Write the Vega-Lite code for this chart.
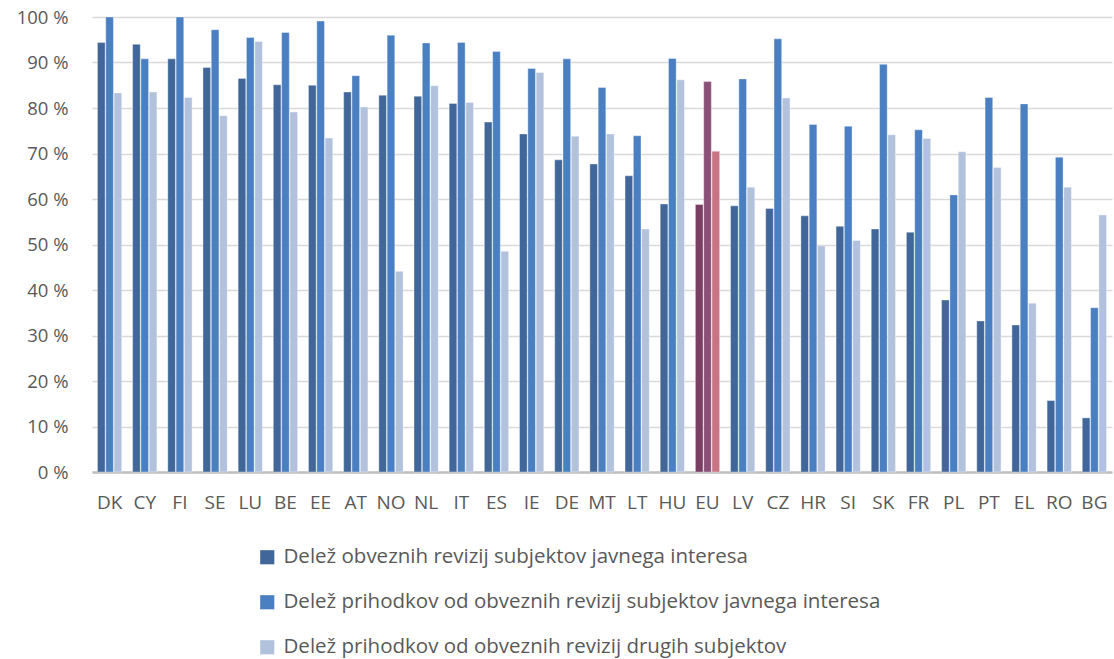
{
  "$schema": "https://vega.github.io/schema/vega-lite/v6.json",
  "width": 1020,
  "height": 455,
  "autosize": {"type": "none"},
  "padding": {"left": 92, "top": 17, "right": 2, "bottom": 187},
  "background": "white",
  "config": {
    "view": {"stroke": null},
    "font": "Open Sans",
    "axis": {"labelFont": "Open Sans", "labelColor": "#595959"},
    "legend": {"labelFont": "Open Sans", "labelColor": "#595959"}
  },
  "data": {
    "values": [
      {"country": "DK", "A": 94.4, "B": 100, "C": 83.3},
      {"country": "CY", "A": 94.0, "B": 90.8, "C": 83.5},
      {"country": "FI", "A": 90.8, "B": 100, "C": 82.3},
      {"country": "SE", "A": 88.9, "B": 97.2, "C": 78.3},
      {"country": "LU", "A": 86.5, "B": 95.5, "C": 94.6},
      {"country": "BE", "A": 85.1, "B": 96.6, "C": 79.1},
      {"country": "EE", "A": 85.0, "B": 99.1, "C": 73.4},
      {"country": "AT", "A": 83.5, "B": 87.1, "C": 80.2},
      {"country": "NO", "A": 82.8, "B": 96.0, "C": 44.1},
      {"country": "NL", "A": 82.6, "B": 94.3, "C": 84.9},
      {"country": "IT", "A": 81.0, "B": 94.4, "C": 81.2},
      {"country": "ES", "A": 76.9, "B": 92.4, "C": 48.5},
      {"country": "IE", "A": 74.3, "B": 88.7, "C": 87.8},
      {"country": "DE", "A": 68.6, "B": 90.8, "C": 73.8},
      {"country": "MT", "A": 67.7, "B": 84.5, "C": 74.3},
      {"country": "LT", "A": 65.1, "B": 73.9, "C": 53.4},
      {"country": "HU", "A": 58.9, "B": 90.9, "C": 86.2},
      {"country": "EU", "A": 58.8, "B": 85.8, "C": 70.5},
      {"country": "LV", "A": 58.5, "B": 86.4, "C": 62.6},
      {"country": "CZ", "A": 57.9, "B": 95.2, "C": 82.2},
      {"country": "HR", "A": 56.3, "B": 76.4, "C": 49.7},
      {"country": "SI", "A": 54.0, "B": 76.0, "C": 50.9},
      {"country": "SK", "A": 53.4, "B": 89.6, "C": 74.1},
      {"country": "FR", "A": 52.7, "B": 75.2, "C": 73.3},
      {"country": "PL", "A": 37.8, "B": 60.9, "C": 70.4},
      {"country": "PT", "A": 33.2, "B": 82.3, "C": 66.9},
      {"country": "EL", "A": 32.3, "B": 80.9, "C": 37.1},
      {"country": "RO", "A": 15.7, "B": 69.2, "C": 62.6},
      {"country": "BG", "A": 11.9, "B": 36.1, "C": 56.5}
    ]
  },
  "transform": [
    {"fold": ["A", "B", "C"], "as": ["series", "value"]},
    {"calculate": "datum.country === 'EU' ? 'EU' + datum.series : datum.series", "as": "grp"}
  ],
  "mark": {"type": "bar", "stroke": "white", "strokeWidth": 0.6, "strokeOpacity": 0.6},
  "encoding": {
    "x": {
      "field": "country",
      "type": "nominal",
      "sort": null,
      "scale": {"paddingInner": 0.31, "paddingOuter": 0.155},
      "axis": {
        "title": null,
        "labelAngle": 0,
        "labelFontSize": 19,
        "labelPadding": 21,
        "ticks": false,
        "domainColor": "#bfbfbf",
        "domainWidth": 2.5,
        "grid": false
      }
    },
    "xOffset": {
      "field": "series",
      "type": "nominal",
      "sort": ["A", "B", "C"],
      "scale": {"paddingInner": 0.08}
    },
    "y": {
      "field": "value",
      "type": "quantitative",
      "scale": {"domain": [0, 100], "nice": false},
      "axis": {
        "title": null,
        "values": [0, 10, 20, 30, 40, 50, 60, 70, 80, 90, 100],
        "labelExpr": "datum.value + ' %'",
        "labelFontSize": 18.5,
        "labelPadding": 24,
        "ticks": false,
        "domain": false,
        "gridColor": "#d9d9d9",
        "gridWidth": 1.5
      }
    },
    "color": {
      "field": "grp",
      "type": "nominal",
      "scale": {
        "domain": ["A", "B", "C", "EUA", "EUB", "EUC"],
        "range": ["#41679a", "#4a7fc1", "#b2c2dd", "#7a3d63", "#8a5077", "#c87485"]
      },
      "legend": {
        "title": null,
        "values": ["A", "B", "C"],
        "labelExpr": "datum.value === 'A' ? 'Delež obveznih revizij subjektov javnega interesa' : datum.value === 'B' ? 'Delež prihodkov od obveznih revizij subjektov javnega interesa' : 'Delež prihodkov od obveznih revizij drugih subjektov'",
        "orient": "none",
        "legendX": 165,
        "legendY": 530,
        "direction": "vertical",
        "symbolType": "square",
        "symbolSize": 200,
        "symbolStrokeWidth": 0,
        "labelFontSize": 20.5,
        "labelOffset": 6,
        "rowPadding": 24,
        "labelLimit": 900
      }
    }
  }
}
